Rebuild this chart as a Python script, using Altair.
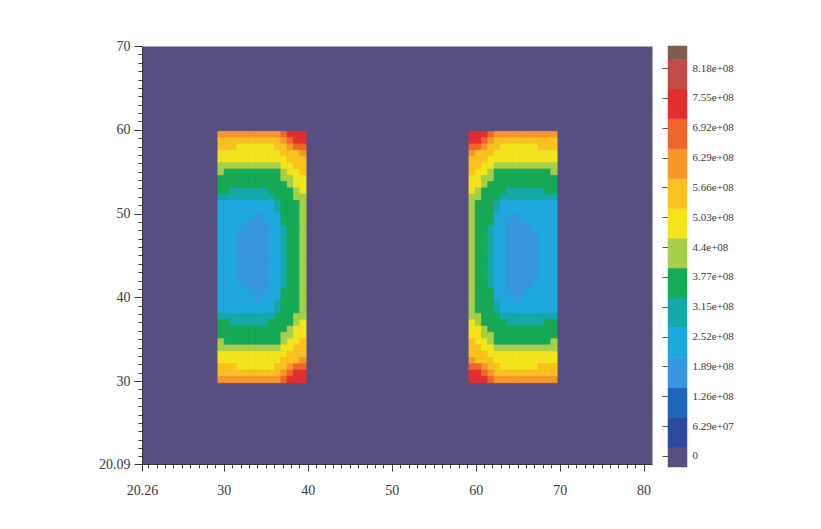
import altair as alt
import pandas as pd

# ---- axes ----
X_DOMAIN = [20.26, 81.0]
Y_DOMAIN = [20.09, 70.0]
X_TICKS = [20.26, 30, 40, 50, 60, 70, 80]
Y_TICKS = [20.09, 30, 40, 50, 60, 70]
X_MINOR = list(range(21, 81))
Y_MINOR = list(range(21, 70))

# ---- contour levels ----
LEVEL_LABELS = ["0", "6.29e+07", "1.26e+08", "1.89e+08", "2.52e+08", "3.15e+08",
                "3.77e+08", "4.4e+08", "5.03e+08", "5.66e+08", "6.29e+08",
                "6.92e+08", "7.55e+08", "8.18e+08"]
LEVEL_COLORS = ["#564f80", "#2b4a9c", "#1f66bb", "#3897e0", "#1fa8de", "#14a9a6",
                "#17a955", "#a6cf4a", "#f4e41c", "#f9c21f", "#f7962a", "#f0652c",
                "#e22e2e", "#c04a45", "#7e5e52"]

CELL = 0.75
BLOCK_BOTTOM = 29.8
LEFT_X0 = 29.3
RIGHT_X0 = 59.2
LEFT_ROWS = [
    "aaaaaaaaaabccc",
    "9999999999abcc",
    "99988888899abb",
    "8888888888999a",
    "88888888888999",
    "77777777778899",
    "76666666667889",
    "66666666667788",
    "66666666666788",
    "66555555666678",
    "55555555566677",
    "44444444456667",
    "44444444456667",
    "44444434446667",
    "44444333446667",
    "44443333445667",
    "44433333445667",
    "44433333445667",
    "44433333445667",
    "44433333445667",
    "44433333445667",
    "44433333445667",
    "44433333445667",
    "44433333445667",
    "44443333445667",
    "44444333446667",
    "44444434446667",
    "44444444456667",
    "44444444456667",
    "55555555566677",
    "66555555666678",
    "66666666666788",
    "66666666667788",
    "76666666667889",
    "77777777778899",
    "88888888888999",
    "8888888888999a",
    "99988888899abb",
    "9999999999abcc",
    "aaaaaaaaaabccc",
]
RIGHT_ROWS = [
    "cccbaaaaaaaaaa",
    "ccba9999999999",
    "bba99888888999",
    "a9998888888888",
    "99988888888888",
    "99887777777777",
    "98876666666667",
    "88776666666666",
    "88766666666666",
    "87666655555566",
    "77666555555555",
    "76665444444444",
    "76665444444444",
    "76664443444444",
    "76664433344444",
    "76654433334444",
    "76654433333444",
    "76654433333444",
    "76654433333444",
    "76654433333444",
    "76654433333444",
    "76654433333444",
    "76654433333444",
    "76654433333444",
    "76654433334444",
    "76664433344444",
    "76664443444444",
    "76665444444444",
    "76665444444444",
    "77666555555555",
    "87666655555566",
    "88766666666666",
    "88776666666666",
    "98876666666667",
    "99887777777777",
    "99988888888888",
    "a9998888888888",
    "bba99888888999",
    "ccba9999999999",
    "cccbaaaaaaaaaa",
]

records = []
for x0, rows in ((LEFT_X0, LEFT_ROWS), (RIGHT_X0, RIGHT_ROWS)):
    n = len(rows)
    for ri, row in enumerate(rows):
        ytop = BLOCK_BOTTOM + CELL * (n - ri)
        for ci, ch in enumerate(row):
            records.append({"x": x0 + ci * CELL, "x2": x0 + (ci + 1) * CELL,
                            "y": ytop - CELL, "y2": ytop, "lvl": str(int(ch, 16))})
df = pd.DataFrame(records)

FONT = "Liberation Serif"
LABEL_COLOR = "#3a3a3a"
lvl_scale = alt.Scale(domain=[str(i) for i in range(len(LEVEL_COLORS))], range=LEVEL_COLORS)
xs = alt.Scale(domain=X_DOMAIN, nice=False, zero=False)
ys = alt.Scale(domain=Y_DOMAIN, nice=False, zero=False)

field = alt.Chart(df).mark_rect(strokeWidth=0.8).encode(
    x=alt.X("x:Q", scale=xs, axis=alt.Axis(
        values=X_TICKS, labelExpr="'' + datum.value", title=None, tickSize=7, labelPadding=12,
        labelFont=FONT, labelFontSize=14, labelColor=LABEL_COLOR, tickColor="#333",
        domainColor="#333", grid=False, orient="bottom", labelFlush=False, labelOverlap=False)),
    x2="x2:Q",
    y=alt.Y("y:Q", scale=ys, axis=alt.Axis(
        values=Y_TICKS, labelExpr="'' + datum.value", title=None, tickSize=8, labelPadding=4,
        labelFont=FONT, labelFontSize=14, labelColor=LABEL_COLOR, tickColor="#333",
        domainColor="#333", grid=False, orient="left", labelFlush=False, labelOverlap=False,
        minExtent=133, maxExtent=133)),
    y2="y2:Q",
    color=alt.Color("lvl:N", scale=lvl_scale, legend=None),
    stroke=alt.Stroke("lvl:N", scale=lvl_scale, legend=None),
)

minor_df = pd.DataFrame({"x": X_DOMAIN, "y": Y_DOMAIN})
minor = alt.Chart(minor_df).mark_point(opacity=0, size=0, strokeWidth=0).encode(
    x=alt.X("x:Q", scale=xs, axis=alt.Axis(
        values=X_MINOR, labels=False, tickSize=4, domain=False, title=None, grid=False,
        orient="bottom", tickColor="#444")),
    y=alt.Y("y:Q", scale=ys, axis=alt.Axis(
        values=Y_MINOR, labels=False, tickSize=4, domain=False, title=None, grid=False,
        orient="left", tickColor="#444")),
)

main = alt.layer(field, minor).resolve_axis(x="independent", y="independent").properties(
    width=510, height=418, view=alt.ViewBackground(fill=LEVEL_COLORS[0], stroke="transparent"))

# ---- colour bar ----
n_bands = len(LEVEL_COLORS)
cb_df = pd.DataFrame({
    "lvl": [str(i) for i in range(n_bands)],
    "lo": [max(i - 0.7, -0.37) for i in range(n_bands)],
    "hi": [min(i + 0.3, 13.74) for i in range(n_bands)],
    "c0": [0] * n_bands,
    "c1": [1] * n_bands,
})
cbs = alt.Scale(domain=[-0.37, 13.74], nice=False, zero=False)
cbx = alt.Scale(domain=[0, 1], nice=False, zero=False)
label_array = "[" + ",".join("'%s'" % s for s in LEVEL_LABELS) + "]"

cb_base = alt.Chart(cb_df).mark_rect(strokeWidth=0.5).encode(
    x=alt.X("c0:Q", scale=cbx, axis=None), x2="c1:Q", y2="hi:Q",
    color=alt.Color("lvl:N", scale=lvl_scale, legend=None),
    stroke=alt.Stroke("lvl:N", scale=lvl_scale, legend=None),
)
cb_left = cb_base.encode(y=alt.Y("lo:Q", scale=cbs, axis=alt.Axis(
    values=list(range(len(LEVEL_LABELS))), labels=False, tickSize=6, domain=False,
    orient="left", title=None, grid=False, tickColor="#555")))
cb_right = cb_base.mark_rect(opacity=0, strokeWidth=0).encode(y=alt.Y("lo:Q", scale=cbs, axis=alt.Axis(
    values=list(range(len(LEVEL_LABELS))), ticks=False, domain=False, orient="right",
    title=None, grid=False, labelExpr=label_array + "[round(datum.value)]",
    labelFont=FONT, labelFontSize=11, labelColor=LABEL_COLOR, labelPadding=5,
    labelOverlap=False, labelFlush=False)))
colorbar = alt.layer(cb_left, cb_right).resolve_axis(y="independent").properties(
    width=19, height=421)

chart = alt.hconcat(main, colorbar, spacing=8).properties(
    padding={"left": 0, "top": 30, "right": 5, "bottom": 5},
    background="white",
).configure_view(stroke="transparent")

chart.save("out.html", embed_options={"renderer": "svg", "actions": False})
